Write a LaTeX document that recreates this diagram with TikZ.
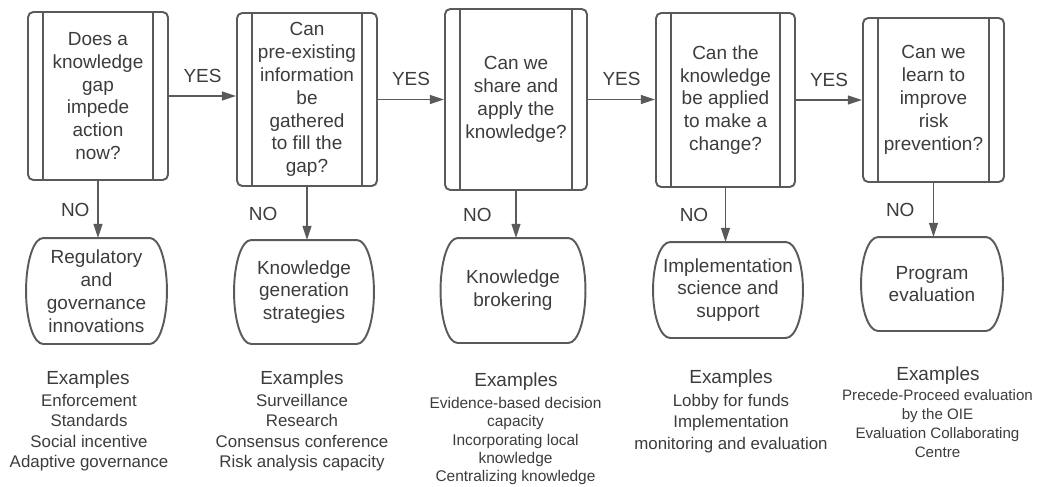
\documentclass[tikz,border=0pt]{standalone}
\usepackage{fontspec}
\setmainfont{Liberation Sans}
\usetikzlibrary{arrows.meta,calc}
\definecolor{linegray}{HTML}{5A5A5A}
\definecolor{textgray}{HTML}{3C3C3C}

\begin{document}
\begin{tikzpicture}[line width=1.1pt,
    question/.style={draw=linegray, rounded corners=3pt, minimum width=2.8cm,
        align=center, inner sep=0pt, text=textgray,
        font=\fontsize{10.8}{13}\selectfont,
        path picture={\draw[linegray, line width=1.1pt]
            ([xshift=0.3cm]path picture bounding box.north west) -- ([xshift=0.3cm]path picture bounding box.south west)
            ([xshift=-0.3cm]path picture bounding box.north east) -- ([xshift=-0.3cm]path picture bounding box.south east);}},
    answer/.style={align=center, inner sep=0pt, text=textgray,
        font=\fontsize{10.8}{13}\selectfont},
    flow/.style={draw=linegray, line width=1pt, -{Triangle[length=8pt, width=5pt]}},
    lbl/.style={text=textgray, font=\fontsize{10.8}{13}\selectfont},
    head/.style={text=textgray, font=\fontsize{10.8}{13}\selectfont, anchor=base, inner sep=0pt},
    items/.style={text=textgray, align=center, anchor=north, inner sep=0pt}]
    \useasboundingbox (0, 0) rectangle (20.9, 9.72);

    % Question boxes
    \node[question, minimum height=3.36cm] (q1) at (1.96, 7.80) {Does a\\knowledge\\gap\\impede\\action\\now?};
    \node[question, minimum height=3.46cm] (q2) at (6.14, 7.73) {Can\\pre-existing\\information\\be\\gathered\\to fill the\\gap?};
    \node[question, minimum height=3.62cm, minimum width=2.84cm] (q3) at (10.32, 7.73) {Can we\\share and\\apply the\\knowledge?};
    \node[question, minimum height=3.48cm, minimum width=2.78cm] (q4) at (14.51, 7.72) {Can the\\knowledge\\be applied\\to make a\\change?};
    \node[question, minimum height=3.28cm, minimum width=2.82cm] (q5) at (18.67, 7.72) {Can we\\learn to\\improve\\risk\\prevention?};

    % Strategies
    \node[answer, minimum width=2.78cm, minimum height=2.08cm] (r1) at (1.93, 3.90) {Regulatory\\and\\governance\\innovations};
    \node[answer, minimum width=2.76cm, minimum height=2.04cm] (r2) at (6.08, 3.88) {Knowledge\\generation\\strategies};
    \node[answer, minimum width=2.86cm, minimum height=2.06cm] (r3) at (10.26, 3.91) {Knowledge\\brokering};
    \node[answer, minimum width=2.96cm, minimum height=1.88cm] (r4) at (14.56, 3.92) {Implementation\\science and\\support};
    \node[answer, minimum width=2.80cm, minimum height=1.84cm] (r5) at (18.64, 4.04) {Program\\evaluation};

    % Curved outlines of the strategies
    \foreach \n in {r1, r2, r3, r4, r5}
        \draw[linegray] ([xshift=0.34cm]\n.north west) -- ([xshift=-0.34cm]\n.north east)
            .. controls ([xshift=-0.15cm]\n.north east) and ($(\n.north east)!0.448!(\n.east)$) .. (\n.east)
            .. controls ($(\n.south east)!0.448!(\n.east)$) and ([xshift=-0.15cm]\n.south east) .. ([xshift=-0.34cm]\n.south east)
            -- ([xshift=0.34cm]\n.south west)
            .. controls ([xshift=0.15cm]\n.south west) and ($(\n.south west)!0.448!(\n.west)$) .. (\n.west)
            .. controls ($(\n.north west)!0.448!(\n.west)$) and ([xshift=0.15cm]\n.north west) .. ([xshift=0.34cm]\n.north west)
            -- cycle;

    % YES arrows
    \draw[flow] (q1.east) -- (q1.east -| q2.west) node[lbl, midway, above=4pt] {YES};
    \draw[flow] (q2.east) -- (q2.east -| q3.west) node[lbl, midway, above=4pt] {YES};
    \draw[flow] (q3.east) -- (q3.east -| q4.west) node[lbl, midway, above=4pt] {YES};
    \draw[flow] (q4.east) -- (q4.east -| q5.west) node[lbl, midway, above=4pt] {YES};

    % NO arrows
    \draw[flow] (q1.south) -- (q1.south |- r1.north) node[lbl, midway, left=1pt] {NO};
    \draw[flow] (q2.south) -- (q2.south |- r2.north) node[lbl, midway, left=13pt] {NO};
    \draw[flow] (q3.south) -- (q3.south |- r3.north) node[lbl, midway, left=10pt] {NO};
    \draw[flow] (q4.south) -- (q4.south |- r4.north) node[lbl, midway, left=6pt] {NO};
    \draw[flow] (q5.south) -- (q5.south |- r5.north) node[lbl, midway, left=7pt] {NO};

    % Examples
    \node[head] (h1) at (1.76, 2.04) {Examples};
    \node[items, font=\fontsize{9.6}{11.7}\selectfont] (ex1) at (1.78, 1.86) {Enforcement\\Standards\\Social incentive\\Adaptive governance};
    \node[head] (h2) at (6.04, 2.04) {Examples};
    \node[items, font=\fontsize{9.6}{11.7}\selectfont] (ex2) at (6.04, 1.86) {Surveillance\\Research\\Consensus conference\\Risk analysis capacity};
    \node[head] (h3) at (10.32, 2.00) {Examples};
    \node[items, font=\fontsize{8.8}{10.5}\selectfont] (ex3) at (10.31, 1.80) {Evidence-based decision\\capacity\\Incorporating local\\knowledge\\Centralizing knowledge};
    \node[head] (h4) at (14.62, 2.06) {Examples};
    \node[items, font=\fontsize{9.6}{12.3}\selectfont] (ex4) at (14.62, 1.86) {Lobby for funds\\Implementation\\monitoring and evaluation};
    \node[head] (h5) at (18.76, 2.12) {Examples};
    \node[items, font=\fontsize{8.6}{10.8}\selectfont] (ex5) at (18.75, 1.94) {Precede-Proceed evaluation\\by the OIE\\Evaluation Collaborating\\Centre};
\end{tikzpicture}
\end{document}
